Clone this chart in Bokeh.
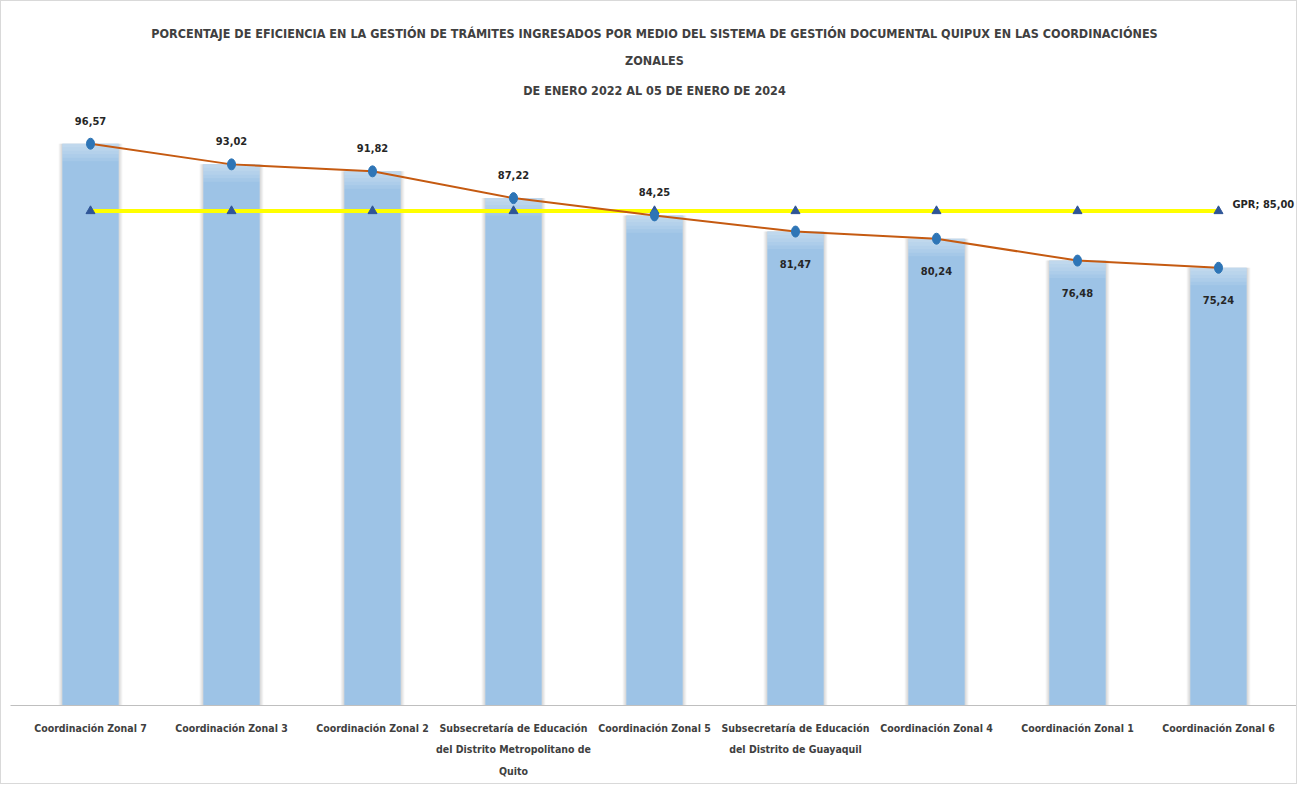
from bokeh.plotting import figure
from bokeh.models import ColumnDataSource, FactorRange, Range1d, Title, Label
from bokeh.embed import file_html
from bokeh.resources import INLINE

categories = [
    "Coordinación Zonal 7",
    "Coordinación Zonal 3",
    "Coordinación Zonal 2",
    "Subsecretaría de Educación\ndel Distrito Metropolitano de\nQuito",
    "Coordinación Zonal 5",
    "Subsecretaría de Educación\ndel Distrito de Guayaquil",
    "Coordinación Zonal 4",
    "Coordinación Zonal 1",
    "Coordinación Zonal 6",
]
efficiency = [96.57, 93.02, 91.82, 87.22, 84.25, 81.47, 80.24, 76.48, 75.24]
gpr = [85.00, 85.00, 85.00, 85.00, 85.00, 85.00, 85.00, 85.00, 85.00]
title_lines = [
    "PORCENTAJE DE EFICIENCIA EN LA GESTIÓN DE TRÁMITES INGRESADOS POR MEDIO DEL SISTEMA DE GESTIÓN DOCUMENTAL QUIPUX EN LAS COORDINACIÓNES",
    "ZONALES",
    "DE ENERO 2022 AL 05 DE ENERO DE 2024",
]

FONT = "DejaVu Sans Condensed"
TXT = "#262626"

def fmt(v):
    return f"{v:.2f}".replace(".", ",")

src = ColumnDataSource(dict(
    cat=categories,
    eff=efficiency,
    gpr=gpr,
))

p = figure(
    x_range=FactorRange(*categories, range_padding=0.015),
    y_range=Range1d(0, 104),
    width=1297, height=784,
    output_backend="svg", toolbar_location=None,
    min_border_left=9, min_border_right=0,
    min_border_top=99, min_border_bottom=80,
    styles={"border": "1px solid #d9d9d9"},
)

# titles (added bottom-up)
p.add_layout(Title(text=title_lines[2], align="center", text_font=FONT, text_font_size="12.5px",
                   text_font_style="bold", text_color="#404040", standoff=5), "above")
p.add_layout(Title(text=title_lines[1], align="center", text_font=FONT, text_font_size="12.5px",
                   text_font_style="bold", text_color="#404040", standoff=21), "above")
p.add_layout(Title(text=title_lines[0], align="center", text_font=FONT, text_font_size="12.5px",
                   text_font_style="bold", text_color="#404040", standoff=0), "above")

# bars with soft shadow and top highlight
p.vbar(x="cat", top="eff", bottom=0, width=0.45, source=src, fill_color="#e3e3e3",
       fill_alpha=0.5, line_color=None)
p.vbar(x="cat", top="eff", bottom=0, width=0.425, source=src, fill_color="#c8c8c8",
       fill_alpha=0.5, line_color=None)
p.vbar(x="cat", top="eff", bottom=0, width=0.40, source=src, fill_color="#9DC3E6",
       line_color=None)
for k in range(1, 6):
    hl = ColumnDataSource(dict(cat=categories, top=efficiency,
                               bot=[v - 0.6 * k for v in efficiency]))
    p.vbar(x="cat", top="top", bottom="bot", width=0.40, source=hl, fill_color="white",
           fill_alpha=0.09, line_color=None)

# GPR line
p.line(x="cat", y="gpr", source=src, line_color="#FFFF00", line_width=4)
p.scatter(x="cat", y="gpr", source=src, marker="triangle", size=9, fill_color="#2F5597",
          line_color="#2F5597")

# efficiency line
p.line(x="cat", y="eff", source=src, line_color="#C55A11", line_width=2)
p.ellipse(x="cat", y="eff", width=8, height=11, width_units="screen", height_units="screen",
          source=src, fill_color="#2E75B6", line_color="#2E75B6")

# value labels (first five above the point, the rest below)
n_above = 5
for i, v in enumerate(efficiency):
    above = i < n_above
    p.add_layout(Label(x=i + 0.5, y=v, text=fmt(v), y_offset=23 if above else -32,
                       text_align="center", text_baseline="middle",
                       text_font=FONT, text_font_size="11px", text_font_style="bold",
                       text_color=TXT))
p.add_layout(Label(x=len(categories) - 0.5, y=gpr[-1], text="GPR; " + fmt(gpr[-1]),
                   x_offset=14, y_offset=7, text_align="left", text_baseline="middle",
                   text_font=FONT, text_font_size="11px", text_font_style="bold",
                   text_color=TXT))

p.yaxis.visible = False
p.xgrid.grid_line_color = None
p.ygrid.grid_line_color = None
p.outline_line_color = None
p.xaxis.axis_line_color = "#BFBFBF"
p.xaxis.major_tick_line_color = None
p.xaxis.minor_tick_line_color = None
p.xaxis.major_label_text_font = FONT
p.xaxis.major_label_text_font_size = "10.5px"
p.xaxis.major_label_text_font_style = "bold"
p.xaxis.major_label_text_color = "#404040"
p.xaxis.major_label_text_line_height = 1.8
p.xaxis.major_label_standoff = 10
p.xaxis.major_label_orientation = "horizontal"

open("out.html", "w").write(file_html(p, INLINE))
